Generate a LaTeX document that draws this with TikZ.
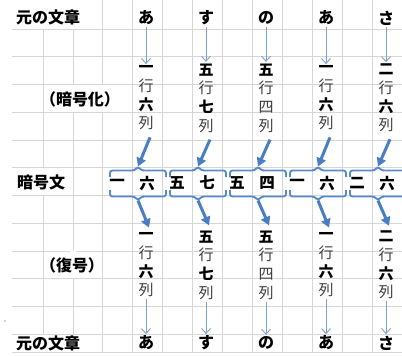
\documentclass[tikz,border=0pt]{standalone}
\usepackage{fontspec}
\setmainfont{Noto Sans CJK JP}
\usetikzlibrary{arrows.meta}
\definecolor{gridc}{HTML}{D6D6D6}
\definecolor{thinc}{HTML}{7CA1D3}
\definecolor{thickc}{HTML}{4A7EC2}
\definecolor{bracec}{HTML}{5A8ACB}
\definecolor{subc}{HTML}{3C3C3C}
\newcommand{\numk}[1]{\textcolor{black}{\bfseries #1}}
\begin{document}
\begin{tikzpicture}[x=1pt,y=-1pt,
  gridline/.style={gridc, line width=0.7pt},
  lbl/.style={font=\bfseries\fontsize{16}{16}\selectfont, inner sep=0pt},
  hdr/.style={font=\bfseries\fontsize{16}{16}\selectfont, inner sep=0pt},
  stk/.style={font=\fontsize{15}{18.7}\selectfont, align=center, inner sep=0pt, text=subc},
  cip/.style={font=\bfseries\fontsize{15.5}{15.5}\selectfont, inner sep=0pt},
  thinarrow/.style={thinc, line width=0.9pt, shorten >=1.5pt, -{Straight Barb[length=5pt,width=9pt]}},
  thickarrow/.style={thickc, line width=3pt, -{Triangle[length=8.5pt,width=9.5pt]}},
  bracepath/.style={bracec, line width=1.9pt, rounded corners=2.5pt},
]
\useasboundingbox (0,0) rectangle (402,356);
\fill[white] (0,0) rectangle (402,356);
% grid
\foreach \k in {0,...,11} \draw[gridline] (12,{29+27.75*\k}) -- (402,{29+27.75*\k});
\draw[gridline] (12,352) -- (402,352);
\foreach \k in {0,...,11} \draw[gridline] ({43+29.9*\k},0) -- ({43+29.9*\k},352);
% hidden grid segments (text overflow)
\fill[white] (40,0) rectangle (76,28.6);
\fill[white] (70,84.9) rectangle (106,111.85);
\fill[white] (40,168.15) rectangle (46,195.1);
\fill[white] (70,251.4) rectangle (76,278.35);
\fill[white] (40,334.65) rectangle (76,351.6);
\fill[gray!70] (5,321) circle (0.9pt);
% labels
\node[lbl, anchor=west] (L1) at (16,17.5) {元の文章};
\node[lbl] (L2) at (80,99) {（暗号化）};
\node[lbl, anchor=west] (L3) at (17,182.5) {暗号文};
\node[lbl] (L4) at (72,265) {（復号）};
\node[lbl, anchor=west] (L5) at (16,343) {元の文章};
% columns
\foreach \i/\h/\a/\b/\bt in {1/あ/一/六/{\numk{六}}, 2/す/五/七/{\numk{七}}, 3/の/五/四/{四}, 4/あ/一/六/{\numk{六}}, 5/さ/二/六/{\numk{六}}} {
  \pgfmathsetmacro{\cx}{146+60*(\i-1)}
  \pgfmathsetmacro{\bx}{138+60*(\i-1)}
  \pgfmathsetmacro{\lx}{117+60*(\i-1)}
  \pgfmathsetmacro{\rx}{147+60*(\i-1)}
  \node[hdr] (h\i) at (\cx,18) {\h};
  \node[stk] (t\i) at (\cx,98) {\numk{\a}\\行\\\bt\\列};
  \node[stk] (b\i) at (\cx,265) {\numk{\a}\\行\\\bt\\列};
  \node[hdr] (f\i) at (\cx,343) {\h};
  \coordinate (bt\i) at (\bx,166.5);
  \coordinate (bb\i) at (\bx,200.5);
  \draw[bracepath] ({\bx-28},177) -- ({\bx-28},170.5) -- ({\bx-3.5},170.5) -- (bt\i) -- ({\bx+3.5},170.5) -- ({\bx+28},170.5) -- ({\bx+28},177);
  \draw[bracepath] ({\bx-28},190) -- ({\bx-28},196.5) -- ({\bx-3.5},196.5) -- (bb\i) -- ({\bx+3.5},196.5) -- ({\bx+28},196.5) -- ({\bx+28},190);
  \node[cip] (cl\i) at (\lx,183) {\a};
  \node[cip] (cr\i) at (\rx,183) {\b};
  \draw[thinarrow] ([yshift=-2pt]h\i.south) -- (t\i.north);
  \draw[thinarrow] ([yshift=-2pt]b\i.south) -- (f\i.north);
  \draw[thickarrow] ([shift={(4,7)}]t\i.south) -- (bt\i);
  \draw[thickarrow] (bb\i) -- ([shift={(3,-5)}]b\i.north);
}
\end{tikzpicture}
\end{document}
